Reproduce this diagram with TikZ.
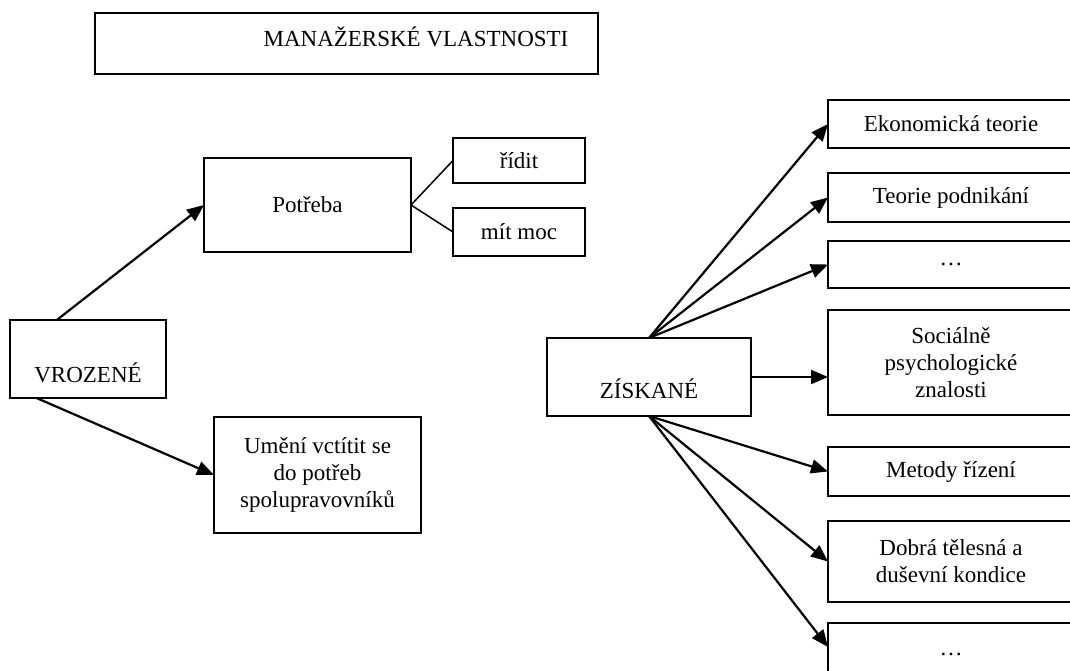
\documentclass[tikz,border=0pt]{standalone}
\usepackage{fontspec}
\setmainfont{Liberation Serif}
\usetikzlibrary{arrows.meta,positioning,calc}

\begin{document}
\begin{tikzpicture}[x=1pt,y=-1pt,
    node distance=22pt,
    box/.style={draw,line width=1.5pt,inner sep=0pt,outer sep=0pt,align=center,font=\fontsize{23}{27}\selectfont},
    side/.style={box,minimum width=246pt},
    arrow/.style={-{Triangle[length=17pt,width=14pt]},line width=2.2pt},
    link/.style={line width=1.5pt}
  ]
    \useasboundingbox (0,0) rectangle (1070,670);

    \node[box,minimum width=503pt,minimum height=61pt] (title) at (346.5,43.5) {};
    \node[font=\fontsize{23}{27}\selectfont,anchor=base] (titletext) at (416,46) {MANAŽERSKÉ VLASTNOSTI};

    \node[box,minimum width=156pt,text height=62pt,text depth=16pt,anchor=base] (vrozene) at (88,382) {VROZENÉ};
    \node[box,minimum width=207pt,minimum height=94pt] (potreba) at (307.5,205) {Potřeba};
    \node[box,minimum width=132pt,minimum height=45pt] (ridit) at (519,160.5) {řídit};
    \node[box,minimum width=132pt,minimum height=48pt] (mitmoc) at (519,232) {mít moc};
    \node[box,minimum width=207pt,minimum height=116pt] (umeni) at (317.5,475) {Umění vctítit se\\do potřeb\\spolupravovníků};

    \node[box,minimum width=204pt,text height=60pt,text depth=18pt,anchor=base] (zisk) at (649,398) {ZÍSKANÉ};
    \node[side,minimum height=48pt] (ekon) at (951,124) {Ekonomická teorie};
    \node[side,minimum height=49pt,below=25pt of ekon] (teorie) {Teorie podnikání};
    \node[side,minimum height=47pt,below=19pt of teorie] (dots1) {…};
    \node[side,minimum height=105pt,below=22pt of dots1] (social) {Sociálně\\psychologické\\znalosti};
    \node[side,minimum height=49pt,below=32pt of social] (metody) {Metody řízení};
    \node[side,minimum height=81pt,below=25pt of metody] (dobra) {Dobrá tělesná a\\duševní kondice};
    \node[side,minimum height=62pt,below=21pt of dobra] (dots2) {…};

    \draw[arrow] ($(vrozene.north west)!0.3!(vrozene.north east)$) -- (potreba.west);
    \draw[arrow] ($(vrozene.south west)!0.17!(vrozene.south east)$) -- (umeni.west);
    \draw[link] (potreba.east) -- (ridit.west);
    \draw[link] (potreba.east) -- (mitmoc.west);

    \foreach \t in {ekon,teorie,dots1}
      \draw[arrow] (zisk.north) -- (\t.west);
    \draw[arrow] (zisk.east) -- (zisk.east -| social.west);
    \foreach \t in {metody,dobra}
      \draw[arrow] (zisk.south) -- (\t.west);
    \draw[arrow] (zisk.south) -- ($(dots2.north west)+(0,-24pt)$);
  \end{tikzpicture}
\end{document}
